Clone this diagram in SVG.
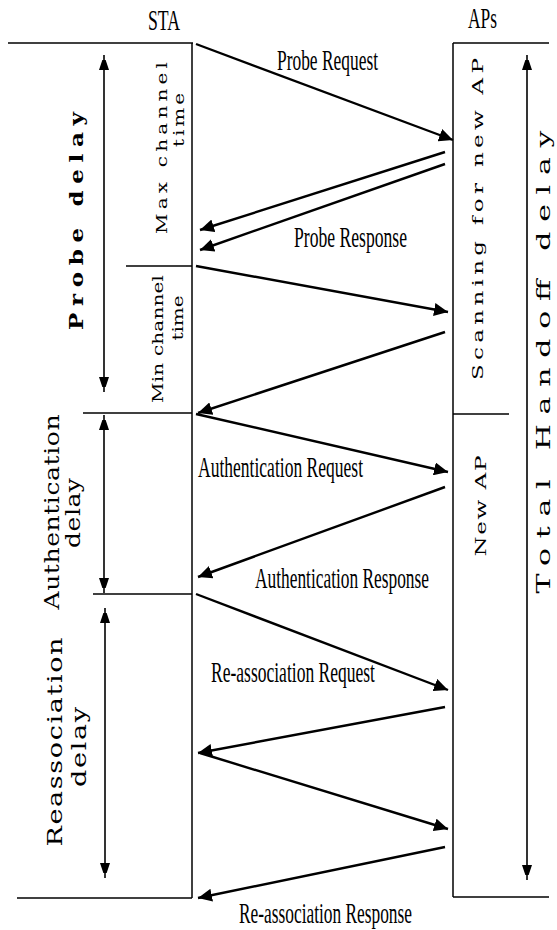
<svg xmlns="http://www.w3.org/2000/svg" width="557" height="930" viewBox="0 0 557 930">
<style>
.frame{stroke:#000;stroke-width:1.5;fill:none}
.msg{stroke:#000;stroke-width:2.4;fill:none;marker-end:url(#ah)}
.span{stroke:#000;stroke-width:1.6;fill:none;marker-start:url(#sh);marker-end:url(#sh)}
.lbl{font-family:"Liberation Serif","Times New Roman",serif;font-size:30px;fill:#000}
.rot{font-family:"DejaVu Serif","Liberation Serif",serif;fill:#000;text-anchor:middle}
</style>
<defs>
<marker id="ah" markerUnits="userSpaceOnUse" markerWidth="15" markerHeight="13" refX="14" refY="6.5" orient="auto"><path d="M0,0 L14,6.5 L0,13 z" fill="#000"/></marker>
<marker id="sh" markerUnits="userSpaceOnUse" markerWidth="10" markerHeight="16" refX="15" refY="5" orient="auto-start-reverse"><path d="M0,0 L15,5 L0,10 z" fill="#000"/></marker>
</defs>
<rect width="557" height="930" fill="#fff"/>
<g id="sta">
<line class="frame" x1="8" y1="43" x2="193" y2="43"/>
<line class="frame" x1="192" y1="43" x2="192" y2="898"/>
<line class="frame" x1="17" y1="898" x2="192" y2="898"/>
<text class="lbl" x="148" y="30" textLength="32" lengthAdjust="spacingAndGlyphs">STA</text>
</g>
<g id="aps">
<line class="frame" x1="453" y1="43" x2="549" y2="43"/>
<line class="frame" x1="453" y1="43" x2="453" y2="897"/>
<line class="frame" x1="453" y1="897" x2="549" y2="897"/>
<text class="lbl" x="468" y="28" textLength="29" lengthAdjust="spacingAndGlyphs">APs</text>
</g>
<g id="dividers">
<line class="frame" x1="126" y1="266" x2="192" y2="266"/>
<line class="frame" x1="83" y1="413" x2="192" y2="413"/>
<line class="frame" x1="93" y1="594" x2="192" y2="594"/>
<line class="frame" x1="453" y1="414" x2="509" y2="414"/>
</g>
<g id="probe-delay">
<line class="span" x1="104" y1="55" x2="104" y2="392"/>
<text class="rot" font-size="23" font-weight="bold" transform="translate(83,221) scale(0.78,1) rotate(-90)" textLength="218" lengthAdjust="spacing">Probe delay</text>
</g>
<g id="max-channel-time">
<text class="rot" font-size="20" transform="translate(167,148) scale(0.74,1) rotate(-90)" textLength="172" lengthAdjust="spacing">Max channel</text>
<text class="rot" font-size="20" transform="translate(184,120) scale(0.74,1) rotate(-90)" textLength="54" lengthAdjust="spacing">time</text>
</g>
<g id="min-channel-time">
<text class="rot" font-size="20" transform="translate(163,339) scale(0.74,1) rotate(-90)" textLength="128" lengthAdjust="spacing">Min channel</text>
<text class="rot" font-size="20" transform="translate(183,318) scale(0.74,1) rotate(-90)" textLength="45" lengthAdjust="spacing">time</text>
</g>
<g id="auth-delay">
<line class="span" x1="104" y1="415" x2="104" y2="593"/>
<text class="rot" font-size="25" transform="translate(59,512) scale(0.78,1) rotate(-90)" textLength="195" lengthAdjust="spacing">Authentication</text>
<text class="rot" font-size="25" transform="translate(80,513) scale(0.78,1) rotate(-90)" textLength="70" lengthAdjust="spacing">delay</text>
</g>
<g id="reassoc-delay">
<line class="span" x1="105" y1="608" x2="105" y2="878"/>
<text class="rot" font-size="27" transform="translate(62,742) scale(0.78,1) rotate(-90)" textLength="209" lengthAdjust="spacing">Reassociation</text>
<text class="rot" font-size="27" transform="translate(86,747) scale(0.78,1) rotate(-90)" textLength="80" lengthAdjust="spacing">delay</text>
</g>
<g id="scanning">
<text class="rot" font-size="23" transform="translate(483,219) scale(0.68,1) rotate(-90)" textLength="322" lengthAdjust="spacing">Scanning for new AP</text>
</g>
<g id="new-ap">
<text class="rot" font-size="23" transform="translate(486,506) scale(0.68,1) rotate(-90)" textLength="101" lengthAdjust="spacing">New AP</text>
</g>
<g id="total-handoff">
<line class="span" x1="527" y1="55" x2="527" y2="880"/>
<text class="rot" font-size="30" transform="translate(550,362) scale(0.62,1) rotate(-90)" textLength="463" lengthAdjust="spacing">Total Handoff delay</text>
</g>
<g id="connectors">
<line class="msg" x1="196" y1="44" x2="453" y2="140"/>
<line class="msg" x1="445" y1="152" x2="200" y2="230"/>
<line class="msg" x1="445" y1="164" x2="200" y2="250"/>
<line class="msg" x1="196" y1="266" x2="448" y2="312"/>
<line class="msg" x1="445" y1="332" x2="198" y2="413"/>
<line class="msg" x1="196" y1="414" x2="448" y2="472"/>
<line class="msg" x1="445" y1="487" x2="198" y2="577"/>
<line class="msg" x1="196" y1="594" x2="448" y2="690"/>
<line class="msg" x1="445" y1="707" x2="198" y2="753"/>
<line class="msg" x1="200" y1="753" x2="448" y2="829"/>
<line class="msg" x1="445" y1="847" x2="198" y2="898"/>
</g>
<g id="message-labels">
<text class="lbl" x="277" y="70" textLength="101" lengthAdjust="spacingAndGlyphs">Probe Request</text>
<text class="lbl" x="294" y="247" textLength="113" lengthAdjust="spacingAndGlyphs">Probe Response</text>
<text class="lbl" x="198" y="477" textLength="165" lengthAdjust="spacingAndGlyphs">Authentication Request</text>
<text class="lbl" x="255" y="588" textLength="174" lengthAdjust="spacingAndGlyphs">Authentication Response</text>
<text class="lbl" x="211" y="682" textLength="164" lengthAdjust="spacingAndGlyphs">Re-association Request</text>
<text class="lbl" x="239" y="923" textLength="173" lengthAdjust="spacingAndGlyphs">Re-association Response</text>
</g>
</svg>
